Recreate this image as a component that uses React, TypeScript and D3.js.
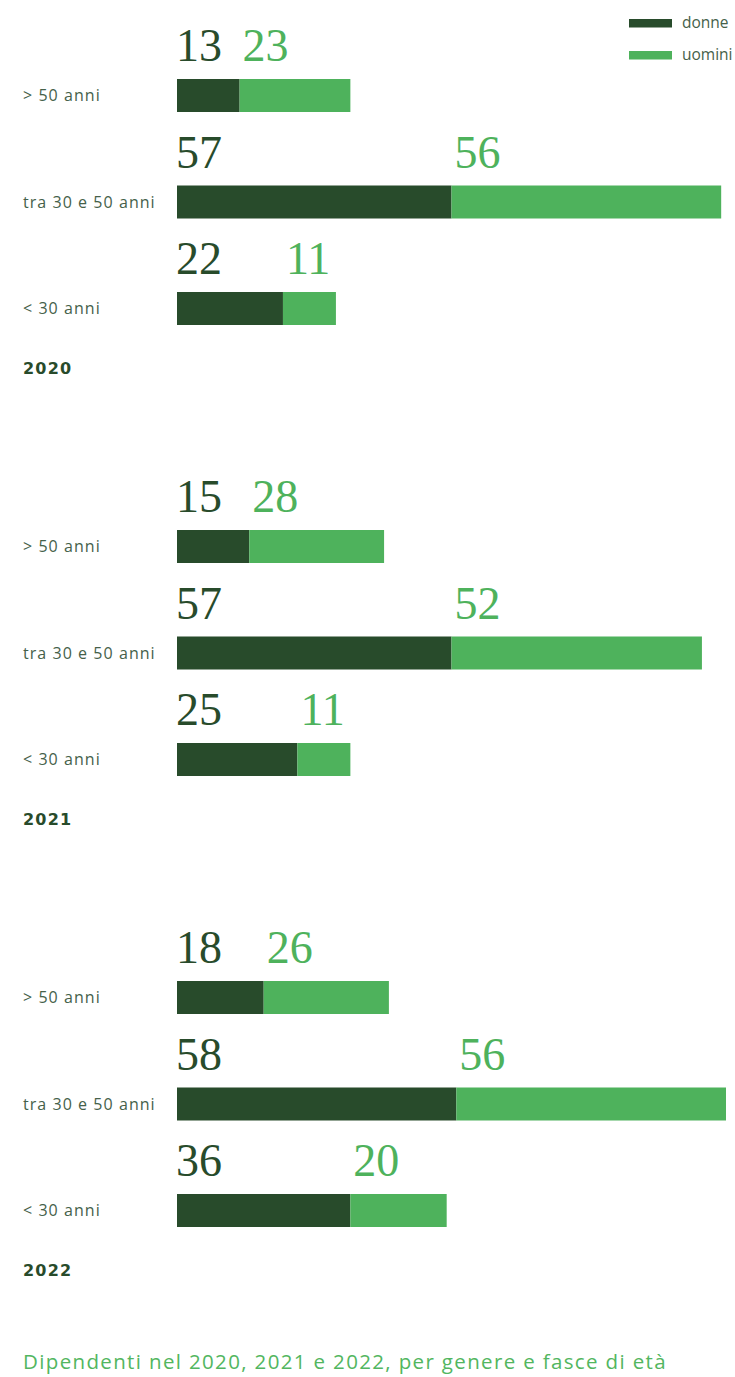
import React, { useEffect, useRef } from "react";
import * as d3 from "d3";

// dati
const years = ["2020", "2021", "2022"];
const ageGroups = ["> 50 anni", "tra 30 e 50 anni", "< 30 anni"];
const donne = [
  [13, 57, 22],
  [15, 57, 25],
  [18, 58, 36],
];
const uomini = [
  [23, 56, 11],
  [28, 52, 11],
  [26, 56, 20],
];
const seriesNames = ["donne", "uomini"];
const caption = "Dipendenti nel 2020, 2021 e 2022, per genere e fasce di età";

const DARK = "#284b2b";
const LIGHT = "#4eb25c";
const LABEL = "#45614a";

const App = () => {
  const svgRef = useRef<SVGSVGElement>(null);

  useEffect(() => {
    const width = 735;
    const height = 1377;
    const svg = d3.select(svgRef.current).attr("width", width).attr("height", height);
    svg.selectAll("*").remove();

    const labelFont = "'Open Sans', sans-serif";
    const numFont = "'Liberation Serif', serif";

    // scale
    const x = d3.scaleLinear().domain([0, 114]).range([177, 726]);
    const groupY = d3.scaleBand<string>().domain(years).range([0, 1353]);
    const rowY = d3.scalePoint<string>().domain(ageGroups).range([79, 292]);
    const barH = 33;

    // legenda
    const legend = svg.append("g");
    seriesNames.forEach((name, i) => {
      const ly = 19 + i * 32;
      legend.append("rect")
        .attr("x", 629).attr("y", ly).attr("width", 43).attr("height", 8.5)
        .attr("fill", i === 0 ? DARK : LIGHT);
      legend.append("text")
        .attr("x", 682).attr("y", ly + 8.5)
        .attr("fill", LABEL)
        .style("font-family", labelFont)
        .style("font-size", "15.5px")
        .text(name);
    });

    years.forEach((year, gi) => {
      const g = svg.append("g").attr("transform", `translate(0,${groupY(year)})`);

      ageGroups.forEach((age, ri) => {
        const top = rowY(age)!;
        const d = donne[gi][ri];
        const u = uomini[gi][ri];

        g.append("text")
          .attr("x", 23).attr("y", top + 22)
          .attr("fill", LABEL)
          .style("font-family", labelFont)
          .style("font-size", "16px")
          .style("letter-spacing", "1.05px")
          .text(age);

        g.append("rect")
          .attr("x", x(0)).attr("y", top)
          .attr("width", x(d) - x(0)).attr("height", barH)
          .attr("fill", DARK);
        g.append("rect")
          .attr("x", x(d)).attr("y", top)
          .attr("width", x(d + u) - x(d)).attr("height", barH)
          .attr("fill", LIGHT);

        g.append("text")
          .attr("x", x(0) - 1).attr("y", top - 18)
          .attr("fill", DARK)
          .style("font-family", numFont)
          .style("font-size", "46px")
          .text(d);
        g.append("text")
          .attr("x", x(d) + 3).attr("y", top - 18)
          .attr("fill", LIGHT)
          .style("font-family", numFont)
          .style("font-size", "46px")
          .text(u);
      });

      g.append("text")
        .attr("x", 23).attr("y", 374)
        .attr("fill", DARK)
        .style("font-family", "'DejaVu Sans', sans-serif")
        .style("font-weight", "bold")
        .style("font-size", "16px")
        .style("letter-spacing", "1.2px")
        .text(year);
    });

    svg.append("text")
      .attr("x", 23).attr("y", 1369)
      .attr("fill", "#52b660")
      .style("font-family", labelFont)
      .style("font-size", "20.5px")
      .style("letter-spacing", "1.35px")
      .text(caption);
  }, []);

  return (
    <div style={{ position: "absolute", left: 0, top: 0 }}>
      <svg ref={svgRef} style={{ display: "block" }}></svg>
    </div>
  );
};

export default App;
